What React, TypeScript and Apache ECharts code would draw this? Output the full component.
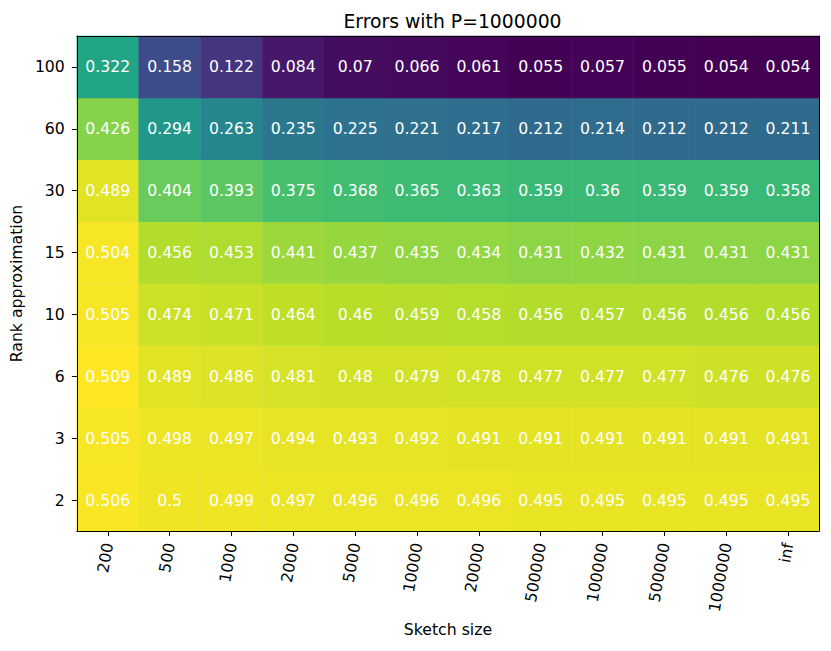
import React, { useEffect, useRef } from "react";
import * as echarts from "echarts";

const sketchSizes = ["200", "500", "1000", "2000", "5000", "10000", "20000", "500000", "100000", "500000", "1000000", "inf"];
// rows from bottom to top
const ranks = ["2", "3", "6", "10", "15", "30", "60", "100"];

const row2 = [0.506, 0.5, 0.499, 0.497, 0.496, 0.496, 0.496, 0.495, 0.495, 0.495, 0.495, 0.495];
const row3 = [0.505, 0.498, 0.497, 0.494, 0.493, 0.492, 0.491, 0.491, 0.491, 0.491, 0.491, 0.491];
const row6 = [0.509, 0.489, 0.486, 0.481, 0.48, 0.479, 0.478, 0.477, 0.477, 0.477, 0.476, 0.476];
const row10 = [0.505, 0.474, 0.471, 0.464, 0.46, 0.459, 0.458, 0.456, 0.457, 0.456, 0.456, 0.456];
const row15 = [0.504, 0.456, 0.453, 0.441, 0.437, 0.435, 0.434, 0.431, 0.432, 0.431, 0.431, 0.431];
const row30 = [0.489, 0.404, 0.393, 0.375, 0.368, 0.365, 0.363, 0.359, 0.36, 0.359, 0.359, 0.358];
const row60 = [0.426, 0.294, 0.263, 0.235, 0.225, 0.221, 0.217, 0.212, 0.214, 0.212, 0.212, 0.211];
const row100 = [0.322, 0.158, 0.122, 0.084, 0.07, 0.066, 0.061, 0.055, 0.057, 0.055, 0.054, 0.054];

const rows = [row2, row3, row6, row10, row15, row30, row60, row100];

const viridis = ["#440154", "#482475", "#414487", "#355f8d", "#2a788e", "#21918c", "#22a884", "#44bf70", "#7ad151", "#bddf26", "#fde725"];

const FONT = "DejaVu Sans";

export default function App() {
  const ref = useRef<HTMLDivElement>(null);
  useEffect(() => {
    if (!ref.current) return;
    const chart = echarts.init(ref.current, null, { renderer: "svg" });
    const data: [number, number, number][] = [];
    rows.forEach((r, yi) => r.forEach((v, xi) => data.push([xi, yi, v])));
    const all = rows.flat();
    const vmin = Math.min(...all);
    const vmax = Math.max(...all);
    chart.setOption({
      animation: false,
      backgroundColor: "#ffffff",
      title: {
        text: "Errors with P=1000000",
        left: 447.5,
        textAlign: "center",
        top: 7,
        textStyle: { fontFamily: FONT, fontSize: 18.8, fontWeight: "normal", color: "#000" },
      },
      grid: { left: 76, right: 12, top: 36, bottom: 120, containLabel: false },
      visualMap: {
        show: false,
        type: "continuous",
        min: vmin,
        max: vmax,
        dimension: 2,
        seriesIndex: 0,
        inRange: { color: viridis },
      },
      xAxis: [
        {
          type: "category",
          data: sketchSizes,
          position: "bottom",
          name: "Sketch size",
          nameLocation: "middle",
          nameGap: 90,
          nameTextStyle: { fontFamily: FONT, fontSize: 15.7, color: "#000" },
          axisLine: { show: true, lineStyle: { color: "#000", width: 1 } },
          axisTick: { show: true, alignWithLabel: true, length: 5, lineStyle: { color: "#000" } },
          axisLabel: { rotate: 80, margin: 12, fontFamily: FONT, fontSize: 15.7, color: "#000", interval: 0 },
          splitLine: { show: false },
          z: 10,
        },
        {
          type: "category",
          data: sketchSizes,
          position: "top",
          axisLine: { show: true, lineStyle: { color: "#000", width: 1 } },
          axisTick: { show: false },
          axisLabel: { show: false },
          z: 10,
        },
      ],
      yAxis: [
        {
          type: "category",
          data: ranks,
          position: "left",
          name: "Rank approximation",
          nameLocation: "middle",
          nameGap: 50,
          nameTextStyle: { fontFamily: FONT, fontSize: 15.7, color: "#000" },
          axisLine: { show: true, lineStyle: { color: "#000", width: 1 } },
          axisTick: { show: true, alignWithLabel: true, length: 5, lineStyle: { color: "#000" } },
          axisLabel: { margin: 12, fontFamily: FONT, fontSize: 15.7, color: "#000", interval: 0 },
          splitLine: { show: false },
          z: 10,
        },
        {
          type: "category",
          data: ranks,
          position: "right",
          axisLine: { show: true, lineStyle: { color: "#000", width: 1 } },
          axisTick: { show: false },
          axisLabel: { show: false },
          z: 10,
        },
      ],
      series: [
        {
          type: "heatmap",
          xAxisIndex: 0,
          yAxisIndex: 0,
          data,
          label: {
            show: true,
            color: "#ffffff",
            fontFamily: FONT,
            fontSize: 15.7,
            formatter: (p: any) => String(p.value[2]),
          },
          itemStyle: { borderWidth: 0 },
          emphasis: { disabled: true },
        },
      ],
    });
    return () => chart.dispose();
  }, []);
  return <div ref={ref} style={{ position: "absolute", left: 0, top: 0, width: 831, height: 651 }} />;
}
